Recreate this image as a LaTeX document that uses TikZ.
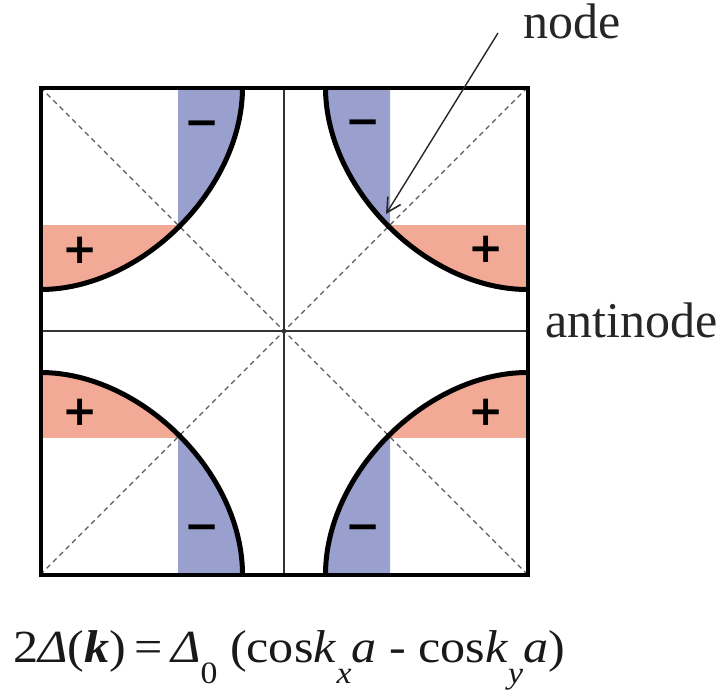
\documentclass[tikz,border=0pt]{standalone}
\usepackage{fontspec}
\setmainfont{Liberation Serif}
\newfontfamily\signfont{DejaVu Sans}
\usetikzlibrary{arrows.meta}
\definecolor{negblue}{RGB}{154,160,205}
\definecolor{pospink}{RGB}{242,170,150}
\newcommand\lowsub[1]{\raisebox{-0.46em}{\fontsize{31}{31}\selectfont #1}}
\tikzset{
  fermiline/.style={line width=5pt, black, line cap=butt},
  axisline/.style={line width=1.3pt, black!80},
  diagline/.style={line width=1.2pt, black!65, dash pattern=on 5pt off 4pt},
  frameline/.style={line width=4pt, black, line join=miter},
  signlbl/.style={inner sep=0pt, font=\signfont\bfseries\fontsize{42}{42}\selectfont},
  biglbl/.style={inner sep=0pt, anchor=base west, font=\fontsize{50}{50}\selectfont, text=black!85},
  formulalbl/.style={inner sep=0pt, anchor=base west, font=\fontsize{46}{46}\selectfont, text=black!90},
  pointer/.style={line width=1.4pt, black!85, -{Straight Barb[length=14pt,width=15pt,line width=1.6pt]}}
}
\begin{document}
\begin{tikzpicture}[x=1pt,y=-1pt]
\useasboundingbox (0,0) rectangle (728,691);
\def\rad{202}
\def\kk{0.50}
\def\nd{137.5}
% coloured lobes
\foreach \sx/\sy in {-1/-1,1/-1,-1/1,1/1}{
  \pgfmathsetmacro\cx{284+\sx*243.5}
  \pgfmathsetmacro\cy{331+\sy*243.5}
  \pgfmathsetmacro\ex{\cx-\sx*\rad}
  \pgfmathsetmacro\ey{\cy-\sy*\rad}
  \pgfmathsetmacro\kx{\cx-\sx*\kk*\rad}
  \pgfmathsetmacro\ky{\cy-\sy*\kk*\rad}
  \pgfmathsetmacro\nx{\cx-\sx*\nd}
  \pgfmathsetmacro\ny{\cy-\sy*\nd}
  \begin{scope}
    \clip (\nx,\cy) rectangle (284,331);
    \fill[negblue] (\cx,\cy) -- (\cx,\ey) .. controls (\kx,\ey) and (\ex,\ky) .. (\ex,\cy) -- cycle;
  \end{scope}
  \begin{scope}
    \clip (\cx,\ny) rectangle (284,331);
    \fill[pospink] (\cx,\cy) -- (\cx,\ey) .. controls (\kx,\ey) and (\ex,\ky) .. (\ex,\cy) -- cycle;
  \end{scope}
}
% diagonals and axes
\draw[diagline] (40.5,87.5) -- (527.5,574.5);
\draw[diagline] (527.5,87.5) -- (40.5,574.5);
\draw[axisline] (284,87.5) -- (284,574.5);
\draw[axisline] (40.5,331) -- (527.5,331);
% Fermi surface arcs
\foreach \sx/\sy in {-1/-1,1/-1,-1/1,1/1}{
  \pgfmathsetmacro\cx{284+\sx*243.5}
  \pgfmathsetmacro\cy{331+\sy*243.5}
  \pgfmathsetmacro\ex{\cx-\sx*\rad}
  \pgfmathsetmacro\ey{\cy-\sy*\rad}
  \pgfmathsetmacro\kx{\cx-\sx*\kk*\rad}
  \pgfmathsetmacro\ky{\cy-\sy*\kk*\rad}
  \draw[fermiline] (\cx,\ey) .. controls (\kx,\ey) and (\ex,\ky) .. (\ex,\cy);
}
% frame
\draw[frameline] (40.5,87.5) rectangle (527.5,574.5);
% signs
\node[signlbl] (ptl) at (80,250) {+};
\node[signlbl] (mtl) at (202,129) {−};
\node[signlbl] (mtr) at (363,128) {−};
\node[signlbl] (ptr) at (486,249) {+};
\node[signlbl] (pbl) at (80,412) {+};
\node[signlbl] (mbl) at (202,533) {−};
\node[signlbl] (pbr) at (486,412) {+};
\node[signlbl] (mbr) at (363,533) {−};
% labels
\node[biglbl] (nodelbl) at (523,38) {node};
\node[biglbl] (antinodelbl) at (545,337) {antinode};
\coordinate (arrowtail) at (498,33);
\coordinate (nodept) at (386,214);
\draw[pointer] (arrowtail) -- (nodept);
% formula
\node[formulalbl] (gapformula) at (13,662) {\scalebox{1.09}[1]{2\textit{Δ}(\textbf{\textit{k}})\,=\,\textit{Δ}\lowsub{0} (cos\textit{k}\lowsub{\textit{x}}\textit{a} - cos\textit{k}\lowsub{\textit{y}}\textit{a})}};
\end{tikzpicture}
\end{document}
